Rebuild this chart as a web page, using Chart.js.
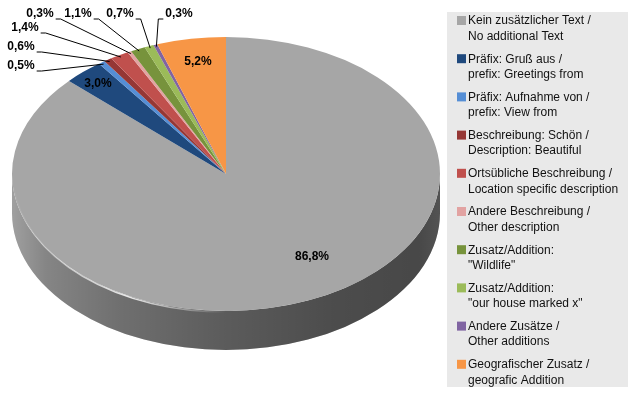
<!DOCTYPE html>
<html>
<head>
<meta charset="utf-8">
<script src="https://cdn.jsdelivr.net/npm/chart.js@4.4.1/dist/chart.umd.min.js"></script>
<style>
    html, body { margin: 0; padding: 0; background: #ffffff; }
    #wrap { width: 630px; height: 395px; }
</style>
</head>
<body>
<div id="wrap"><canvas id="pieChart" width="630" height="395"></canvas></div>
<script>
// ======================= DATA =======================
const categories = [
    ["Kein zusätzlicher Text /", "No additional Text"],
    ["Präfix: Gruß aus /", "prefix: Greetings from"],
    ["Präfix: Aufnahme von /", "prefix: View from"],
    ["Beschreibung: Schön /", "Description: Beautiful"],
    ["Ortsübliche Beschreibung /", "Location specific description"],
    ["Andere Beschreibung /", "Other description"],
    ["Zusatz/Addition:", "\"Wildlife\""],
    ["Zusatz/Addition:", "\"our house marked x\""],
    ["Andere Zusätze /", "Other additions"],
    ["Geografischer Zusatz /", "geografic Addition"]
];
const shares = [86.8, 3.0, 0.5, 0.6, 1.4, 0.3, 1.1, 0.7, 0.3, 5.2];
const colors = ["#a6a6a6", "#1f497d", "#558ed5", "#953735", "#c0504d",
                "#e2a3a2", "#77933c", "#9bbb59", "#8064a2", "#f79646"];

// ======================= LAYOUT =======================
const PIE_CX = 226, PIE_CY = 174, PIE_RX = 214, PIE_RY = 137, PIE_DEPTH = 39;

// label text centres; side = where the leader line leaves the label (null = inside)
const labelLayout = [
    { x: 312, y: 257, side: null },
    { x: 98,  y: 84,  side: null },
    { x: 21,  y: 66,  side: "r" },
    { x: 21,  y: 47,  side: "r" },
    { x: 25,  y: 28,  side: "r" },
    { x: 40,  y: 14,  side: "r" },
    { x: 78,  y: 14,  side: "r" },
    { x: 120, y: 14,  side: "r" },
    { x: 179, y: 14,  side: "l" },
    { x: 198, y: 62,  side: null }
];

const LABEL_FONT = "bold 12px 'Liberation Sans', Arial, sans-serif";
const LEGEND_FONT = "12px 'Liberation Sans', Arial, sans-serif";

function fmt(v) {
    return v.toFixed(1).replace(".", ",") + "%";
}

function rim(angle, r) {
    return { x: PIE_CX + PIE_RX * r * Math.cos(angle), y: PIE_CY + PIE_RY * r * Math.sin(angle) };
}

// ==== 3D look: side wall + squashed top face ====
const pie3d = {
    id: "pie3d",
    beforeDatasetsDraw(chart) {
        const ctx = chart.ctx;
        const arcs = chart.getDatasetMeta(0).data;

        arcs.forEach((arc, i) => {
            const a = Math.max(arc.startAngle, 0);
            const b = Math.min(arc.endAngle, Math.PI);
            if (b <= a) return;
            ctx.beginPath();
            ctx.ellipse(PIE_CX, PIE_CY, PIE_RX, PIE_RY, 0, a, b);
            ctx.ellipse(PIE_CX, PIE_CY + PIE_DEPTH, PIE_RX, PIE_RY, 0, b, a, true);
            ctx.closePath();
            ctx.fillStyle = colors[i];
            ctx.fill();
        });

        // shading of the wall, light on the left, dark on the right
        const g = ctx.createLinearGradient(PIE_CX - PIE_RX, 0, PIE_CX + PIE_RX, 0);
        g.addColorStop(0, "rgba(0,0,0,0.04)");
        g.addColorStop(0.08, "rgba(0,0,0,0.20)");
        g.addColorStop(0.25, "rgba(0,0,0,0.33)");
        g.addColorStop(0.5, "rgba(0,0,0,0.45)");
        g.addColorStop(0.75, "rgba(0,0,0,0.54)");
        g.addColorStop(0.95, "rgba(0,0,0,0.57)");
        g.addColorStop(1, "rgba(0,0,0,0.50)");
        ctx.beginPath();
        ctx.ellipse(PIE_CX, PIE_CY, PIE_RX, PIE_RY, 0, 0, Math.PI);
        ctx.ellipse(PIE_CX, PIE_CY + PIE_DEPTH, PIE_RX, PIE_RY, 0, Math.PI, 0, true);
        ctx.closePath();
        ctx.fillStyle = g;
        ctx.fill();

        const a0 = arcs[0];
        ctx.save();
        ctx.translate(PIE_CX, PIE_CY);
        ctx.scale(PIE_RX / a0.outerRadius, PIE_RY / a0.outerRadius);
        ctx.translate(-a0.x, -a0.y);
    },
    afterDatasetsDraw(chart) {
        const ctx = chart.ctx;
        ctx.restore();
        const arcs = chart.getDatasetMeta(0).data;

        // rim highlight
        const hl = ctx.createLinearGradient(PIE_CX - PIE_RX, 0, PIE_CX, 0);
        hl.addColorStop(0, "rgba(255,255,255,0)");
        hl.addColorStop(0.25, "rgba(255,255,255,0.55)");
        hl.addColorStop(0.55, "rgba(255,255,255,0.85)");
        hl.addColorStop(1, "rgba(255,255,255,0)");
        ctx.beginPath();
        ctx.ellipse(PIE_CX, PIE_CY + 1, PIE_RX - 1, PIE_RY, 0, Math.PI * 0.5, Math.PI * 0.97);
        ctx.strokeStyle = hl;
        ctx.lineWidth = 1.5;
        ctx.stroke();

        // ==== value labels + leader lines ====
        ctx.font = LABEL_FONT;
        ctx.textAlign = "center";
        ctx.textBaseline = "middle";
        arcs.forEach((arc, i) => {
            const L = labelLayout[i];
            const text = fmt(shares[i]);
            ctx.fillStyle = "#000000";
            ctx.fillText(text, L.x, L.y);
            if (!L.side) return;
            const w = ctx.measureText(text).width;
            const mid = (arc.startAngle + arc.endAngle) / 2;
            const end = rim(mid, 0.985);
            const dir = L.side === "r" ? 1 : -1;
            const sx = L.x + dir * (w / 2 + 2);
            const sy = L.y + 5;
            ctx.beginPath();
            ctx.moveTo(sx, sy);
            ctx.lineTo(sx + dir * 5, sy);
            ctx.lineTo(end.x, end.y);
            ctx.strokeStyle = "#000000";
            ctx.lineWidth = 1;
            ctx.stroke();
        });
    },
    afterDraw(chart) {
        // ==== legend ====
        const ctx = chart.ctx;
        ctx.fillStyle = "#e9e9e9";
        ctx.fillRect(447, 12, 181, 375);
        ctx.font = LEGEND_FONT;
        ctx.textAlign = "left";
        ctx.textBaseline = "middle";
        chart.data.labels.forEach((lines, i) => {
            const y = 20 + i * 38.2;
            ctx.fillStyle = colors[i];
            ctx.fillRect(457, y - 4, 9, 9);
            ctx.fillStyle = "#111111";
            lines.forEach((t, k) => ctx.fillText(t, 468, y + 1 + k * 15.5));
        });
    }
};

new Chart(document.getElementById("pieChart"), {
    type: "pie",
    data: {
        labels: categories,
        datasets: [{
            data: shares,
            backgroundColor: colors,
            borderWidth: 0,
            clip: false
        }]
    },
    options: {
        responsive: false,
        animation: false,
        devicePixelRatio: 1,
        events: [],
        layout: { padding: { left: 12, right: 190, top: 0, bottom: 0 } },
        plugins: {
            legend: { display: false },
            tooltip: { enabled: false }
        }
    },
    plugins: [pie3d]
});
</script>
</body>
</html>
